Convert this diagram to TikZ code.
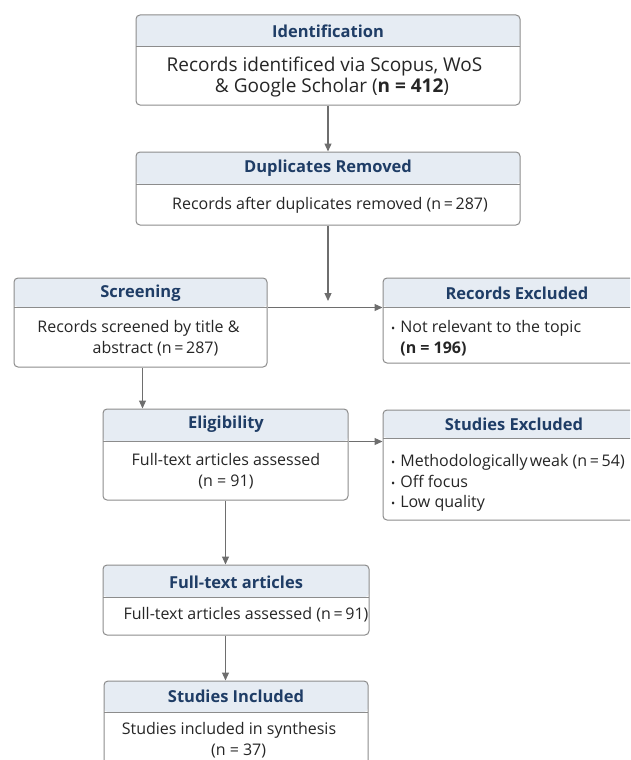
\documentclass[tikz,border=0pt]{standalone}
\usepackage{fontspec}
\setmainfont{Open Sans}
\usepackage{tikz}
\usetikzlibrary{arrows.meta}

\definecolor{hdrfill}{HTML}{E6ECF3}
\definecolor{hdrtext}{HTML}{1F3D66}
\definecolor{frame}{HTML}{8C8C8C}
\definecolor{bodytext}{HTML}{262626}
\definecolor{link}{HTML}{6E6E6E}

\begin{document}
\begin{tikzpicture}[x=1pt, y=-1pt, >={Triangle[length=8pt,width=7pt]},
    flowbox/.style={draw=frame, line width=1pt, fill=white, rounded corners=4pt,
        inner sep=0pt,
        path picture={
            \fill[hdrfill] (path picture bounding box.north west)
                rectangle ([yshift=-#1]path picture bounding box.north east);
            \draw[frame, line width=1pt] ([yshift=-#1]path picture bounding box.north west)
                -- ([yshift=-#1]path picture bounding box.north east);
        }},
    title/.style={text=hdrtext, font=\fontsize{16.5}{19}\selectfont\bfseries, inner sep=0pt},
    body/.style={text=bodytext, font=\fontsize{16}{20.5}\selectfont, align=center, inner sep=0pt},
    link/.style={->, draw=link, line width=1.2pt}]
    % Page frame
    \path[use as bounding box, clip] (0,0) rectangle (630,760);

    % Identification
    \node[flowbox=32pt, minimum width=384pt, minimum height=90pt] (ident) at (328,60) {};
    \node[title] (identhead) at (328,31) {Identification};
    \node[body, font=\fontsize{19}{21}\selectfont] (identbody) at (324.5,77.5) {Records identificed via Scopus, WoS\\
        \hspace{15pt}\& Google Scholar (\textbf{n = 412})};

    % Duplicates removed
    \node[flowbox=32pt, minimum width=384pt, minimum height=73pt] (dup) at (328,188.5) {};
    \node[title] (duphead) at (328,168) {Duplicates Removed};
    \node[body] (dupbody) at (330,205) {Records after duplicates removed (n\,=\,287)};

    % Screening
    \node[flowbox=29pt, minimum width=253pt, minimum height=89pt] (screen) at (140.5,322.5) {};
    \node[title] (screenhead) at (140.5,293) {Screening};
    \node[body] (screenbody) at (138.5,338) {Records screened by title \&\\
        \hspace{34pt}abstract (n\,=\,287)};

    % Records excluded
    \node[flowbox=29pt, minimum width=257pt, minimum height=85pt] (recex) at (511.5,320.5) {};
    \node[title] (recexhead) at (517,293) {Records Excluded};
    \node[body, align=left, anchor=north west] (recexbody) at (391,318) {%
        \begin{tabular}{@{}l@{\hspace{5pt}}l@{}}
        {\fontsize{11}{11}\selectfont\textbullet} & Not relevant to the topic\\
         & \textbf{(n = 196)}
        \end{tabular}};

    % Eligibility
    \node[flowbox=32pt, minimum width=245pt, minimum height=91pt] (elig) at (225.5,454.5) {};
    \node[title] (elighead) at (226,424) {Eligibility};
    \node[body] (eligbody) at (226,471) {Full-text articles assessed\\(n = 91)};

    % Studies excluded
    \node[flowbox=28pt, minimum width=257pt, minimum height=110pt] (studex) at (511.5,465) {};
    \node[title] (studexhead) at (514,424) {Studies Excluded};
    \node[body, align=left, anchor=north west] (studexbody) at (391,452) {%
        \begin{tabular}{@{}l@{\hspace{5pt}}l@{}}
        {\fontsize{11}{11}\selectfont\textbullet} & Methodologically\hspace{-0.12em} weak (n\,=\,54)\\
        {\fontsize{11}{11}\selectfont\textbullet} & Off focus\\
        {\fontsize{11}{11}\selectfont\textbullet} & Low quality
        \end{tabular}};

    % Full-text articles
    \node[flowbox=32pt, minimum width=266pt, minimum height=70pt] (full) at (236,600) {};
    \node[title] (fullhead) at (236,582) {Full-text articles};
    \node[body] (fullbody) at (246,615) {Full-text articles assessed (n\,=\,91)};

    % Studies included
    \node[flowbox=31pt, minimum width=264pt, minimum height=94pt] (incl) at (236,728) {};
    \node[title] (inclhead) at (236,696) {Studies Included};
    \node[body] (inclbody) at (229,740) {Studies included in synthesis\\
        \hspace{1.2em}(n = 37)};

    % Connectors
    \coordinate (merge) at (328,301);
    \draw[link] (ident.south) -- (dup.north);
    \draw[link] (dup.south) -- (merge);
    \draw[link] ([yshift=-30pt]screen.north east) -- ([yshift=-30pt]screen.north east -| recex.west);
    \draw[link] ([xshift=2pt]screen.south) -- ([xshift=2pt]screen.south |- elig.north);
    \draw[link] ([yshift=-33pt]elig.north east) -- ([yshift=-33pt]elig.north east -| studex.west);
    \draw[link] (elig.south) -- (elig.south |- full.north);
    \draw[link] (full.south -| elig.south) -- (elig.south |- incl.north);
\end{tikzpicture}
\end{document}
